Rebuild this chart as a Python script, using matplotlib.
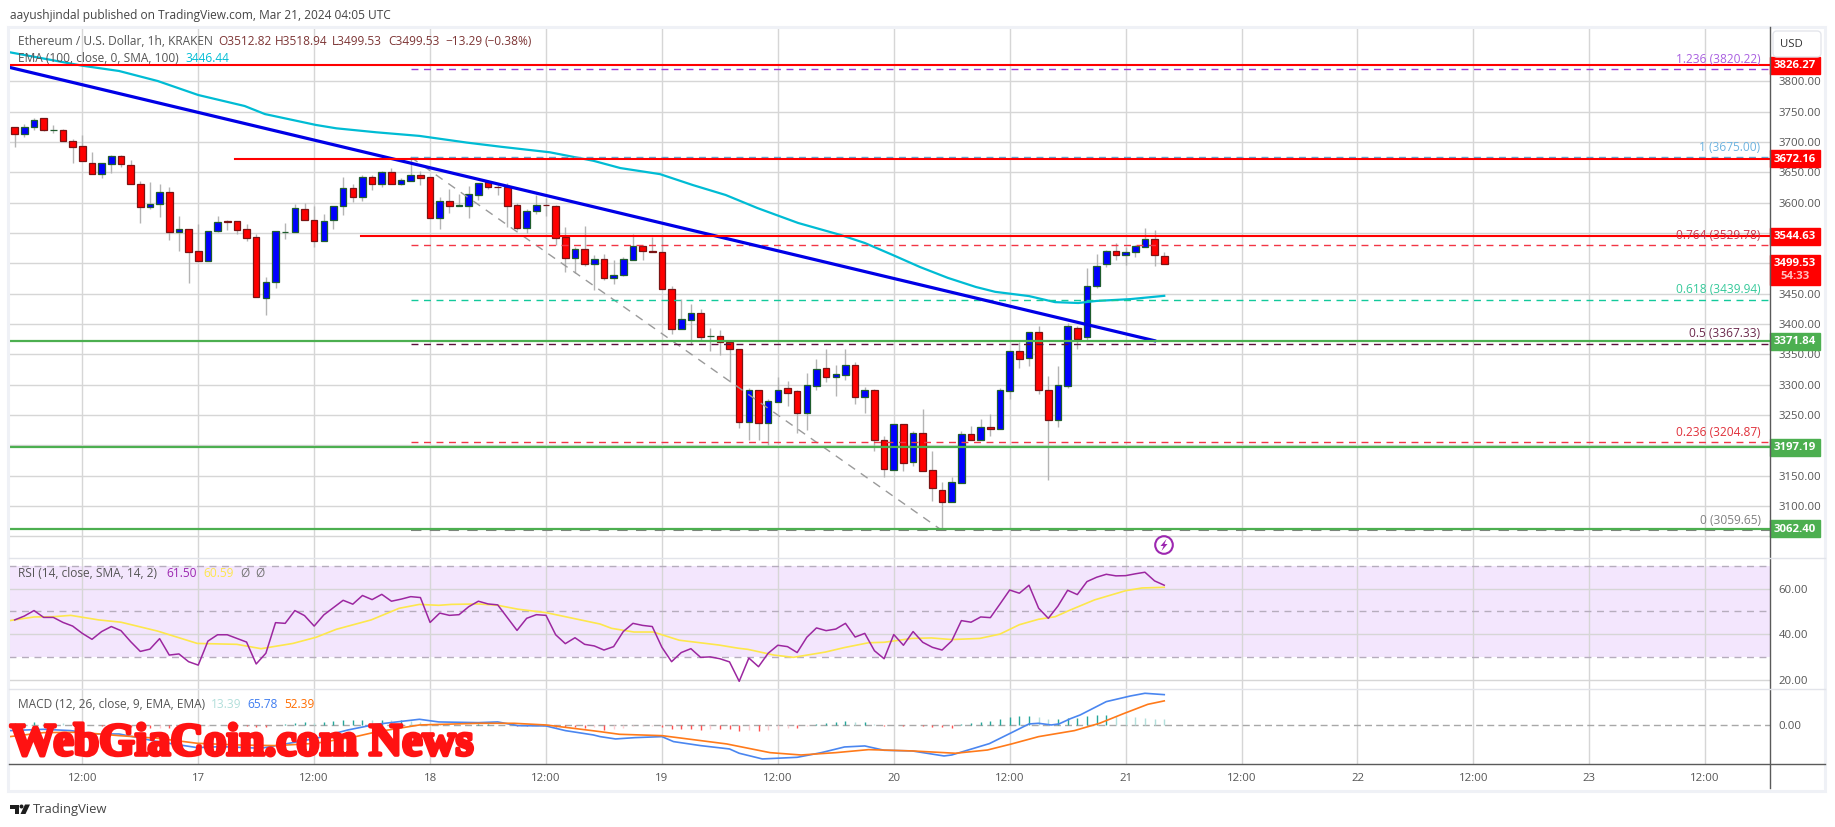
#!/usr/bin/env python3
import matplotlib
matplotlib.use("Agg")
import matplotlib.pyplot as plt
import matplotlib.patheffects as pe
from matplotlib.patches import Rectangle, FancyBboxPatch, Circle, Polygon
from matplotlib.transforms import blended_transform_factory

plt.rcParams['font.family'] = ['Open Sans', 'DejaVu Sans']

# -----------------------------
# Candles, hourly. Hour 0 = Mar 16 05:00
# -----------------------------
opens = [3724, 3713, 3724, 3739, 3719, 3719, 3701, 3693, 3665, 3648, 3664, 3677, 3662, 3630, 3592, 3597, 3617, 3552, 3556, 3520,
         3503, 3554, 3569, 3569, 3556, 3543, 3443, 3469, 3551, 3551, 3589, 3572, 3536, 3571, 3595, 3624, 3609, 3642, 3630, 3650,
         3631, 3636, 3645, 3642, 3575, 3602, 3595, 3595, 3613, 3634, 3626, 3625, 3596, 3559, 3587, 3596, 3594, 3543, 3509, 3523,
         3499, 3507, 3475, 3480, 3506, 3529, 3521, 3518, 3457, 3391, 3407, 3418, 3379.5, 3380, 3371, 3358, 3239, 3291, 3237, 3272,
         3294, 3289, 3254, 3298, 3327, 3313, 3316, 3333, 3279, 3291, 3208, 3159, 3235, 3173, 3221, 3160, 3127, 3107, 3138, 3218,
         3208, 3231, 3227, 3290, 3355, 3344, 3386, 3292, 3241, 3298, 3394, 3379, 3462, 3499, 3521, 3514, 3518, 3527, 3540, 3512.82]
highs = [3724, 3730, 3740, 3739, 3728, 3721, 3705, 3712, 3684, 3665, 3679, 3679, 3670, 3636, 3634, 3631, 3625, 3578, 3556, 3565,
         3554, 3578, 3571, 3569, 3565, 3548, 3477, 3553, 3566, 3598, 3599, 3594, 3581, 3595, 3642, 3631, 3645, 3646, 3652, 3657,
         3641, 3676, 3652, 3642, 3610, 3623, 3614, 3627, 3633, 3637, 3632, 3632, 3600, 3589, 3612, 3607, 3596, 3560, 3527, 3562,
         3514, 3515, 3505, 3510, 3548, 3531, 3544, 3547, 3462, 3442, 3433, 3425, 3393, 3390, 3373, 3358, 3294, 3291, 3277, 3312,
         3306, 3291, 3319, 3342, 3358, 3332, 3358, 3337, 3296, 3293, 3215, 3235, 3235, 3224, 3260, 3191, 3140, 3148, 3224, 3232,
         3243, 3252, 3294, 3355, 3371, 3387, 3397, 3314, 3331, 3401, 3396, 3493, 3516, 3522, 3534, 3527, 3530, 3558, 3555, 3518.94]
lows = [3692, 3709, 3720, 3718, 3715, 3701, 3666, 3668, 3648, 3641, 3649, 3659, 3630, 3567, 3590, 3577, 3539, 3520, 3468, 3503,
        3503, 3552, 3555, 3549, 3537, 3445, 3415, 3459, 3540, 3551, 3572, 3527, 3536, 3557, 3580, 3601, 3603, 3621, 3626, 3631,
        3629, 3636, 3629, 3575, 3557, 3583, 3595, 3575, 3604, 3623, 3613, 3560, 3555, 3550, 3581, 3578, 3530, 3486, 3484, 3496,
        3456, 3473, 3466, 3479, 3506, 3506, 3518, 3457, 3384, 3391, 3365, 3373, 3355, 3349, 3305, 3229, 3209, 3209, 3201, 3272,
        3265, 3220, 3225, 3291, 3304, 3281, 3308, 3268, 3254, 3191, 3148, 3159, 3158, 3166, 3157, 3108, 3060, 3107, 3138, 3208,
        3208, 3215, 3227, 3277, 3327, 3331, 3285, 3143, 3230, 3295, 3359, 3374, 3460, 3494, 3505, 3497, 3510, 3527, 3496, 3499.53]
closes = [3713, 3724, 3737, 3719, 3719.5, 3701, 3692, 3668, 3648, 3665, 3677, 3663, 3630, 3592, 3597, 3617, 3552, 3556, 3519, 3503,
          3554, 3568, 3568.6, 3555, 3542, 3445, 3469, 3553, 3551.5, 3591, 3572, 3536, 3569, 3595, 3624, 3610, 3642, 3630, 3650, 3631,
          3637, 3645, 3641, 3575, 3602, 3595, 3596, 3615, 3632, 3625, 3625.5, 3595, 3559, 3587, 3596, 3595.5, 3542, 3509, 3523, 3499,
          3507, 3475, 3480, 3507, 3528, 3521, 3518, 3457, 3391, 3409, 3418, 3379, 3380, 3371, 3358, 3239, 3291, 3236, 3273, 3292,
          3287, 3254, 3299, 3325, 3313, 3317, 3333, 3280, 3292, 3208, 3161, 3235, 3171, 3221, 3158, 3129, 3107, 3139, 3218, 3208,
          3231, 3227, 3291, 3355, 3343, 3386, 3292, 3241, 3300, 3396, 3376, 3462, 3495, 3521, 3514, 3518, 3528, 3540, 3513, 3499.53]

ema_hours = [-0.5, 7, 10.8, 14.8, 19, 23.8, 25.9, 31.2, 33.3, 37.4, 41.9, 46.8, 50.4, 55.4, 59.9, 62.7, 66.8,
             70.2, 73.6, 76.9, 81.1, 85.5, 88, 90.9, 93.7, 96.6, 99.5, 101.5, 105, 107.7, 110.1, 112, 115.5, 119]
ema_values = [3847.8, 3825.7, 3817, 3800.5, 3777.4, 3759.3, 3746, 3728, 3722.5, 3716, 3710, 3699, 3692, 3683, 3669, 3657, 3647,
              3629, 3612.6, 3591, 3566.5, 3546.7, 3533.5, 3513.7, 3494, 3476, 3461, 3453, 3446, 3436, 3434.6, 3438, 3441, 3446.44]

# drawn trend line and levels
trend_hours = [-0.7, 118]
trend_prices = [3823.6, 3372.4]
red_levels = [3826.27, 3672.16, 3544.63]
red_starts = [-1, 22.8, 35.9]
green_levels = [3371.84, 3197.19, 3062.40]

fib_ratios = ["1.236", "1", "0.764", "0.618", "0.5", "0.236", "0"]
fib_prices = [3820.22, 3675.00, 3529.78, 3439.94, 3367.33, 3204.87, 3059.65]
fib_line_colors = ["#9c3fd8", "#5fa8d3", "#f23645", "#12c99b", "#5b0f3a", "#f23645", "#808080"]
fib_text_colors = ["#a95fe0", "#6db3e0", "#c8324a", "#35c99a", "#6b2a4d", "#e0303a", "#808080"]
fib_start, fib_end = 41, 96
fib_diag_prices = [3675.00, 3059.65]

rsi = [46.3, 48.0, 50.4, 47.4, 47.4, 45.2, 43.6, 40.4, 37.8, 41.2, 43.4, 41.6, 36.8, 32.5, 33.5, 38.1, 30.9, 31.4, 28.0, 26.5,
       37.0, 39.8, 39.8, 38.2, 36.6, 27.0, 31.7, 45.1, 44.8, 50.4, 48.2, 43.6, 48.5, 51.7, 54.9, 53.2, 57.0, 55.2, 57.5, 54.5,
       55.4, 56.5, 56.1, 45.2, 49.3, 48.3, 48.6, 52.1, 54.5, 53.3, 52.9, 47.3, 41.7, 47.0, 48.6, 48.3, 39.8, 35.9, 38.5, 35.6,
       34.9, 33.1, 34.6, 41.2, 44.8, 43.9, 43.4, 34.3, 28.0, 32.0, 33.7, 29.9, 30.1, 29.3, 27.9, 19.4, 29.6, 25.8, 31.7, 35.2,
       34.6, 32.0, 38.7, 42.8, 41.6, 42.3, 44.8, 38.8, 40.4, 32.8, 29.3, 39.9, 35.2, 41.2, 36.5, 34.3, 33.1, 37.1, 46.0, 45.3,
       47.6, 47.3, 53.3, 59.4, 58.0, 61.5, 51.4, 47.0, 52.4, 59.3, 57.4, 63.1, 65.0, 66.3, 65.6, 65.7, 66.5, 67.2, 63.4, 61.50]

rsi_ma_hours = [-0.5, 2, 4, 5.8, 8.7, 11, 14.8, 18.9, 23, 25.5, 28.8, 31.2, 33.3, 36.9, 39.8, 41.9, 43.9, 45.2, 48, 50, 52.1, 55,
                57.8, 60.6, 61.8, 64.1, 66.1, 68.8, 72.9, 74.9, 75.9, 78.6, 80.6, 83.9, 85.9, 88.4, 90, 92.9, 94.9, 97, 99.9,
                102, 104, 106, 107.7, 109.3, 111.8, 115, 116.7, 119]
rsi_ma_values = [46.0, 47.6, 47.7, 48.3, 46.3, 45.3, 41.4, 36.0, 35.6, 33.7, 36.0, 38.7, 42.2, 46.3, 51.4, 53.1, 52.7, 53.1, 53.3, 52.7, 51.0, 49.5,
                 47.0, 44.5, 42.6, 41.0, 41.0, 37.4, 35.3, 33.9, 33.4, 30.9, 29.9, 32.2, 34.2, 36.3, 36.5, 38.2, 38.4, 37.7, 38.2,
                 40.1, 44.2, 46.6, 47.7, 50.7, 55.1, 59.1, 60.3, 60.59]

macd_hours = [-0.5, 3, 5.8, 8.3, 10.8, 14.8, 18.9, 21.4, 25.5, 28.4, 31.2, 34.5, 37.4, 41.9, 43.9, 48, 50, 52.1, 55, 57, 59.9,
              60.6, 62.2, 64.2, 67, 68.2, 71, 74, 75, 77.4, 81, 83.5, 85.9, 88, 90, 92.9, 96.2, 97, 100.9, 103.2, 105, 106, 107.3,
              108.1, 109.3, 110.3, 113, 115.5, 117, 119]
macd_values = [-11.4, -8.6, -11.4, -18.6, -18.6, -35, -47.9, -45.8, -49.3, -38.6, -28, -10, 2.1, 12.9, 7.2, 5.7, 7.2, -0.7, -1.4, -11.4, -20.7,
               -24.3, -29.3, -26.5, -24.3, -35, -43.6, -50.8, -60, -72.2, -68.7, -58.7, -46.5, -44.3, -53.6, -55, -65.8, -63.7, -39.3, -15.7, 2.9, 4.3, 0.7,
               2.9, 14.3, 22.2, 50.8, 62.9, 68.7, 65.78]
signal_hours = [-0.5, 3, 6.7, 10.8, 14.8, 18.9, 23, 27.1, 31.2, 35.3, 37.4, 41.9, 48, 51.7, 55, 57.8, 60.6, 62.6, 67, 73.7, 78.2, 81.4,
                85, 88.4, 92.9, 97.4, 100.7, 103.2, 106, 109.7, 112.3, 114.7, 117.3, 119]
signal_values = [-24.3, -15.7, -15, -22.2, -27.9, -38.6, -42.2, -43.6, -38.6, -24.3, -14.3, 0.7, 4.3, 4.3, 0.7, -6.4, -13.6, -19.3, -22.2, -40, -58.7, -63.7,
                 -58.7, -52.2, -55, -60, -53, -40, -24.3, -11.4, 4.3, 24.3, 45, 52.39]
macd_hist = [4.2, 5.6, 7, 6.3, 5.6, 4.9, 4.2, 2.8, 0.7, -0.7, -2.1, -1.4, -3.5, -5.6, -6.3, -4.9, -5.6, -6.3, -5.6, -4.2,
             -1.4, 0.4, 0, -0.7, -1.4, -4.2, -4.2, 0.7, 2.8, 5.6, 7.7, 5.6, 7, 9.1, 11.2, 11.2, 11.9, 11.2, 11.9, 10.5,
             11.2, 8.4, 7, 4.2, 2.8, 2.1, 1.4, 1.4, 2.1, 2.1, 1.4, 0, -1.4, -2.1, -0.7, -1.4, -3.5, -4.2, -4.2, -4.9,
             -4.2, -9.8, -7, -5.6, -2.1, -0.7, -0.5, -3.5, -7, -8.4, -8.4, -9.1, -8.4, -8.4, -8.4, -12.6, -10.5, -12.6, -10.5, -7,
             -4.9, -5.6, -0.7, 3.5, 4.9, 6.3, 8.4, 6.3, 6.3, 2.8, -2.1, 0, -2.1, 0, -1.4, -2.8, -2.8, -4.9, 2.1, 4.9,
             7.7, 9.8, 12.6, 18.2, 18.9, 21, 18.2, 12.6, 12.6, 15.4, 16.1, 19.6, 21.7, 22.4, 19.6, 18.9, 18.2, 16.1, 14, 13.39]

price_ticks = [3800, 3750, 3700, 3650, 3600, 3550, 3500, 3450, 3400, 3350, 3300, 3250, 3200, 3150, 3100, 3050]
hidden_price_labels = [3550, 3500, 3200, 3050]  # sit behind the badges in the picture
rsi_ticks = [60, 40, 20]
time_hours = [7, 19, 31, 43, 55, 67, 79, 91, 103, 115, 127, 139, 151, 163, 175]
time_labels = ["12:00", "17", "12:00", "18", "12:00", "19", "12:00", "20", "12:00", "21", "12:00", "22", "12:00", "23", "12:00"]

# -----------------------------
# Figure and panes (all placed in pixels of the 1835x827 picture)
# -----------------------------
W, H = 1835, 827
fig = plt.figure(figsize=(W / 100, H / 100), dpi=100, facecolor='white')

def pane(left, top, right, bottom):
    return fig.add_axes([left / W, 1 - bottom / H, (right - left) / W, (bottom - top) / H])

AXIS_X = 1769.7
PX_HOUR = 9.66
xlim = ((9 - 14.7) / PX_HOUR, (AXIS_X - 14.7) / PX_HOUR)

ax = pane(9, 27, AXIS_X, 558.3)
ax_rsi = pane(9, 558.3, AXIS_X, 689.3)
ax_macd = pane(9, 689.3, AXIS_X, 764.3)

GRID = '#d6d6d6'
TXT = '#555555'
FS = 8.2
for a in (ax, ax_rsi, ax_macd):
    a.set_xlim(*xlim)
    a.set_xticks(time_hours)
    a.yaxis.tick_right()
    a.grid(True, color=GRID, lw=1.0)
    a.set_axisbelow(True)
    a.tick_params(length=0, labelcolor=TXT, labelsize=FS, pad=6.5, labelbottom=False)
    for s in a.spines.values():
        s.set_visible(False)

ax.set_ylim(3013.8, 3889.5)
ax.set_yticks(price_ticks, ["" if p in hidden_price_labels else f"{p:.2f}" for p in price_ticks])
ax_rsi.set_ylim(15.9, 73.3)
ax_rsi.set_yticks(rsi_ticks, [f"{v:.2f}" for v in rsi_ticks])
ax_macd.set_ylim(-83.7, 77.25)
ax_macd.set_yticks([0], ["0.00"])
ax_macd.set_xticks(time_hours, time_labels)
ax_macd.tick_params(axis='x', labelbottom=True, pad=6.5)
ax_macd.yaxis.grid(False)

# -----------------------------
# Main pane
# -----------------------------
hours = list(range(len(opens)))
for h, o, hi, lo, c in zip(hours, opens, highs, lows, closes):
    up = c >= o
    ax.vlines(h, lo, hi, color='#b4b4b4', lw=1.0, zorder=3)
    ax.bar(h, abs(c - o), bottom=min(o, c), width=0.68, zorder=4,
           color='#0000ff' if up else '#ff0000',
           edgecolor='#1f5e2e' if up else '#7a1414', linewidth=0.9)

ax.plot(ema_hours, ema_values, color='#00bcd4', lw=1.6, zorder=5)
ax.plot(trend_hours, trend_prices, color='#0000e6', lw=2.3, zorder=6)

# fib tool
trans = blended_transform_factory(ax.transAxes, ax.transData)
ax.plot([fib_start, fib_end], fib_diag_prices, color='#9a9a9a', lw=1.0, ls=(0, (6, 5)), zorder=5)
for ratio, p, lc, tc in zip(fib_ratios, fib_prices, fib_line_colors, fib_text_colors):
    ax.plot([fib_start, xlim[1]], [p, p], color=lc, lw=1.5 if ratio == "0" else 1.0, ls=(0, (5, 4)), zorder=5)
    ax.text(0.9948, p + 16.5, f"{ratio} ({p:.2f})", color=tc, fontsize=8.6, ha='right', va='center',
            transform=trans, zorder=7)

for p, start in zip(red_levels, red_starts):
    ax.plot([start, xlim[1]], [p, p], color='#ff0000', lw=1.5, zorder=6)
for p in green_levels:
    ax.plot(xlim, [p, p], color='#4caf50', lw=1.6, zorder=6)

# price badges on the axis
badge_w = 50 / (AXIS_X - 9)
for p, col in [(v, '#ff0000') for v in red_levels] + [(v, '#4caf50') for v in green_levels]:
    ax.add_patch(Rectangle((1.0, p - 14), badge_w, 28, transform=trans, color=col, clip_on=False, zorder=8))
    ax.text(1.0 + badge_w / 2, p - 0.5, f"{p:.2f}", color='white', fontsize=FS, fontweight='bold',
            ha='center', va='center', transform=trans, clip_on=False, zorder=9)
last_close = closes[-1]
ax.add_patch(Rectangle((1.0, last_close - 35), badge_w, 49, transform=trans, color='#ff0000', clip_on=False, zorder=8))
ax.text(1.0 + badge_w / 2, last_close, f"{last_close:.2f}", color='white', fontsize=FS, fontweight='bold',
        ha='center', va='center', transform=trans, clip_on=False, zorder=9)
ax.text(1.0 + badge_w / 2, last_close - 21, "54:33", color='#ffc0c0', fontsize=FS, fontweight='bold',
        ha='center', va='center', transform=trans, clip_on=False, zorder=9)

# -----------------------------
# RSI pane
# -----------------------------
ax_rsi.axhspan(30, 70, color='#f3e6fd', lw=0, zorder=0)
for lvl in (70, 50, 30):
    ax_rsi.axhline(lvl, color='#b6adbd', lw=1.0, ls=(0, (5, 4)), zorder=1)
ax_rsi.plot(hours, rsi, color='#9c27a0', lw=1.1, zorder=4)
ax_rsi.plot(rsi_ma_hours, rsi_ma_values, color='#fde74c', lw=1.2, zorder=3)

# -----------------------------
# MACD pane
# -----------------------------
ax_macd.axhline(0, color='#a8a8a8', lw=1.0, ls=(0, (5, 3)), zorder=1)
for i, v in enumerate(macd_hist):
    prev = macd_hist[i - 1] if i else v
    if v >= 0:
        col = '#26a69a' if v >= prev else '#b2dfdb'
    else:
        col = '#ff5252' if v <= prev else '#ffcdd2'
    ax_macd.vlines(i, 0, v, color=col, lw=1.0, zorder=2)
ax_macd.plot(macd_hours, macd_values, color='#4a86f0', lw=1.2, zorder=3)
ax_macd.plot(signal_hours, signal_values, color='#ff7a1a', lw=1.2, zorder=4)

# -----------------------------
# Page chrome, legends, watermark
# -----------------------------
pg = fig.add_axes([0, 0, 1, 1], zorder=10)
pg.set_xlim(0, W)
pg.set_ylim(H, 0)
pg.axis('off')
pg.patch.set_alpha(0)

pg.add_patch(Rectangle((8, 27), 1817, 763.5, fill=False, ec='#eff1f6', lw=2.2))
pg.plot([AXIS_X, AXIS_X], [27, 788], color='#5a5a5a', lw=1.0)
pg.plot([9, 1825], [764.3, 764.3], color='#5a5a5a', lw=1.0)
for y in (558.3, 689.3):
    pg.plot([9, 1825], [y, y], color='#e2e4ea', lw=1.0)
pg.add_patch(FancyBboxPatch((1776, 34), 42, 20, boxstyle='round,pad=3,rounding_size=4', fc='white', ec='#e4e6ec', lw=1.0))
pg.text(1791.5, 44.5, "USD", color='#333333', fontsize=FS, ha='center', va='center')

pg.text(10, 15, "aayushjindal published on TradingView.com, Mar 21, 2024 04:05 UTC", color='#444444', fontsize=8.6, va='center')

LEG = '#555555'
BROWN = '#7d3535'
pg.text(18, 41.5, "Ethereum / U.S. Dollar, 1h, KRAKEN", color=LEG, fontsize=8.6, va='center')
for x, s in [(218, "O3512.82"), (275, "H3518.94"), (332, "L3499.53"), (388, "C3499.53"), (445, "\u221213.29"), (484, "(\u22120.38%)")]:
    pg.text(x, 41.5, s, color=BROWN, fontsize=8.6, va='center')
pg.text(18, 58.5, "EMA (100, close, 0, SMA, 100)", color=LEG, fontsize=8.6, va='center')
pg.text(185, 58.5, "3446.44", color='#00bcd4', fontsize=8.6, va='center')

pg.text(18, 573.5, "RSI (14, close, SMA, 14, 2)", color=LEG, fontsize=8.6, va='center')
pg.text(166, 573.5, "61.50", color='#9c27b0', fontsize=8.6, va='center')
pg.text(203, 573.5, "60.59", color='#fde74c', fontsize=8.6, va='center')
pg.text(240, 573.5, "\u00d8", color='#777777', fontsize=8.6, va='center')
pg.text(255, 573.5, "\u00d8", color='#777777', fontsize=8.6, va='center')

pg.text(18, 704.5, "MACD (12, 26, close, 9, EMA, EMA)", color=LEG, fontsize=8.6, va='center')
pg.text(211, 704.5, "13.39", color='#b2dfdb', fontsize=8.6, va='center')
pg.text(247, 704.5, "65.78", color='#3f7df0', fontsize=8.6, va='center')
pg.text(284, 704.5, "52.39", color='#ff6d00', fontsize=8.6, va='center')

# bolt marker
pg.add_patch(Circle((1164, 545), 8.8, fill=False, ec='#9c27b0', lw=1.5))
pg.add_patch(Polygon([(1166.5, 539), (1160.5, 546), (1163.5, 546), (1161.5, 551), (1167.5, 544), (1164.5, 544)], color='#9c27b0', lw=0))

# TradingView logo
pg.add_patch(Polygon([(10, 804.5), (19, 804.5), (19, 814), (14.5, 814), (14.5, 808.5), (10, 808.5)], color='#1e1e1e', lw=0))
pg.add_patch(Circle((21.5, 806.5), 2, color='#1e1e1e', lw=0))
pg.add_patch(Polygon([(25, 804.5), (30, 804.5), (25.5, 814), (20.5, 814)], color='#1e1e1e', lw=0))
pg.text(33, 809.5, "TradingView", color='#444444', fontsize=9.4, va='center')

pg.text(10, 744, "WebGiaCoin.com News", color='#ff1212', fontsize=33, fontweight='bold', family=['Liberation Serif'],
        va='center', path_effects=[pe.withStroke(linewidth=2.6, foreground='#ff1212')])

fig.savefig('out.png', dpi=100)
